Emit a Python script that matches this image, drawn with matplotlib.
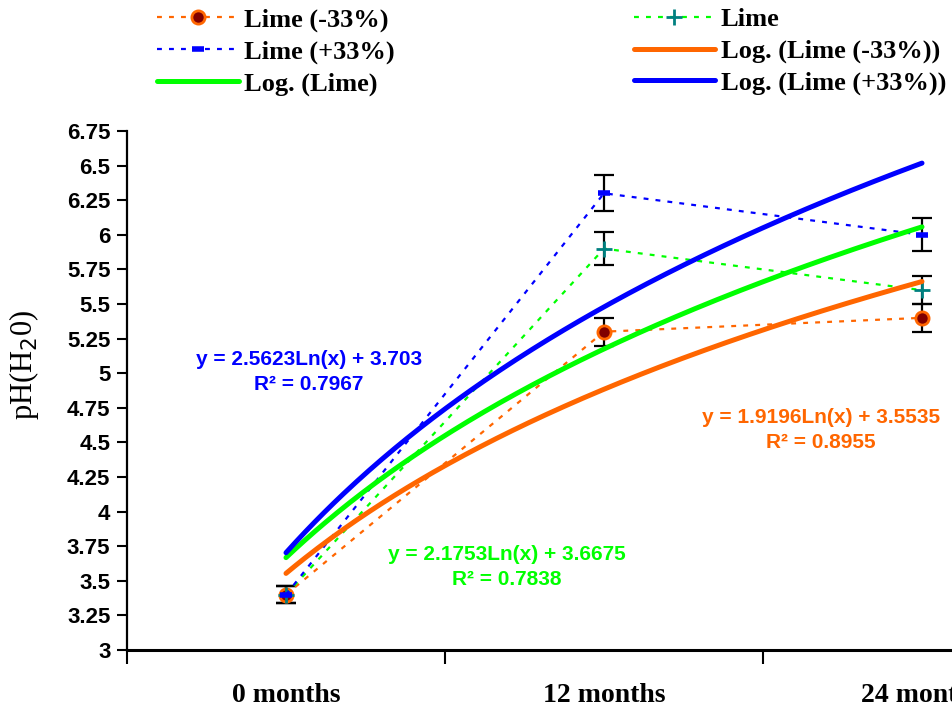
import numpy as np
import matplotlib.pyplot as plt

# data
months = ['0 months', '12 months', '24 months']
lime_minus = [3.4, 5.3, 5.4]
lime = [3.4, 5.9, 5.6]
lime_plus = [3.4, 6.3, 6.0]
err_minus = [0.06, 0.10, 0.10]
err_lime = [0.06, 0.12, 0.10]
err_plus = [0.06, 0.13, 0.12]
eq_minus = 'y = 1.9196Ln(x) + 3.5535\nR² = 0.8955'
eq_lime = 'y = 2.1753Ln(x) + 3.6675\nR² = 0.7838'
eq_plus = 'y = 2.5623Ln(x) + 3.703\nR² = 0.7967'

ORANGE = '#FF6600'
GREEN = '#00FF00'
BLUE = '#0000FF'

fig = plt.figure(figsize=(9.52, 7.07), dpi=100)
ax = fig.add_axes([127/952, 57/707, 954/952, 519/707])

x = np.arange(1, len(months) + 1)

# error bars first, under everything
for y, e in [(lime_minus, err_minus), (lime, err_lime), (lime_plus, err_plus)]:
    ax.errorbar(x, y, yerr=e, fmt='none', ecolor='black', elinewidth=1.6,
                capsize=7, capthick=1.6, zorder=2, clip_on=False)

dash = (2.2, 3.2)
h1, = ax.plot(x, lime_minus, color=ORANGE, lw=1.6, dashes=dash, marker='o', ms=9.5,
              mfc='#800000', mec=ORANGE, mew=2, label='Lime (-33%)', zorder=3, clip_on=False)
h2, = ax.plot(x, lime, color=GREEN, lw=1.6, dashes=dash, marker='+', ms=11,
              mec='#008080', mew=2, label='Lime', zorder=3, clip_on=False)
h3, = ax.plot(x, lime_plus, color=BLUE, lw=1.6, dashes=dash, marker='_', ms=9,
              mec=BLUE, mew=4, label='Lime (+33%)', zorder=3, clip_on=False)

# logarithmic trend lines, fitted like the spreadsheet does
xs = np.linspace(1, 3, 200)
trend = {}
for key, y in [('minus', lime_minus), ('lime', lime), ('plus', lime_plus)]:
    a, b = np.polyfit(np.log(x), y, 1)
    trend[key] = a * np.log(xs) + b
h4, = ax.plot(xs, trend['minus'], color=ORANGE, lw=3.6, solid_capstyle='round',
              label='Log. (Lime (-33%))', zorder=4)
h5, = ax.plot(xs, trend['lime'], color=GREEN, lw=3.6, solid_capstyle='round',
              label='Log. (Lime)', zorder=4)
h6, = ax.plot(xs, trend['plus'], color=BLUE, lw=3.6, solid_capstyle='round',
              label='Log. (Lime (+33%))', zorder=4)

# trendline equations
eq_font = dict(family='Liberation Sans', weight='bold', size=15,
               ha='center', va='center', linespacing=1.4)
fig.text(309/952, 1 - 372/707, eq_plus, color=BLUE, **eq_font)
fig.text(507/952, 1 - 567/707, eq_lime, color=GREEN, **eq_font)
fig.text(821/952, 1 - 430/707, eq_minus, color=ORANGE, **eq_font)

# axes
ax.set_xlim(0.5, 3.5)
ax.set_ylim(3, 6.75)
yt = np.arange(3, 6.76, 0.25)
ax.set_yticks(yt)
ax.set_yticklabels([f'{v:g}' for v in yt], fontfamily='Liberation Sans',
                   fontweight='bold', fontsize=16)
ax.tick_params(axis='y', direction='out', length=7, width=1.5, pad=5)

ax.set_xticks([0.5, 1.5, 2.5, 3.5])
ax.set_xticklabels([])
ax.set_xticks(x, minor=True)
ax.set_xticklabels(months, minor=True, fontfamily='Liberation Serif',
                   fontweight='bold', fontsize=20)
ax.tick_params(axis='x', which='major', direction='out', length=10, width=1.5)
ax.tick_params(axis='x', which='minor', length=0, pad=24)

for s in ['top', 'right']:
    ax.spines[s].set_visible(False)
ax.spines['left'].set_linewidth(1.6)
ax.spines['bottom'].set_linewidth(2.2)

ax.set_ylabel('pH(H$_2$0)', fontfamily='Liberation Serif', fontsize=22)
ax.yaxis.set_label_coords(-0.09, 0.55)

# legend: two columns, filled column by column
fig.legend(handles=[h1, h3, h5, h2, h4, h6], ncol=2, loc='upper left',
           bbox_to_anchor=(157/952, 1 - 8/707), bbox_transform=fig.transFigure,
           frameon=False, borderpad=0, borderaxespad=0,
           handlelength=3.1, handletextpad=0.2, columnspacing=9.05, labelspacing=0.3,
           prop=dict(family='Liberation Serif', weight='bold', size=19))

fig.savefig('out.png', dpi=100)
